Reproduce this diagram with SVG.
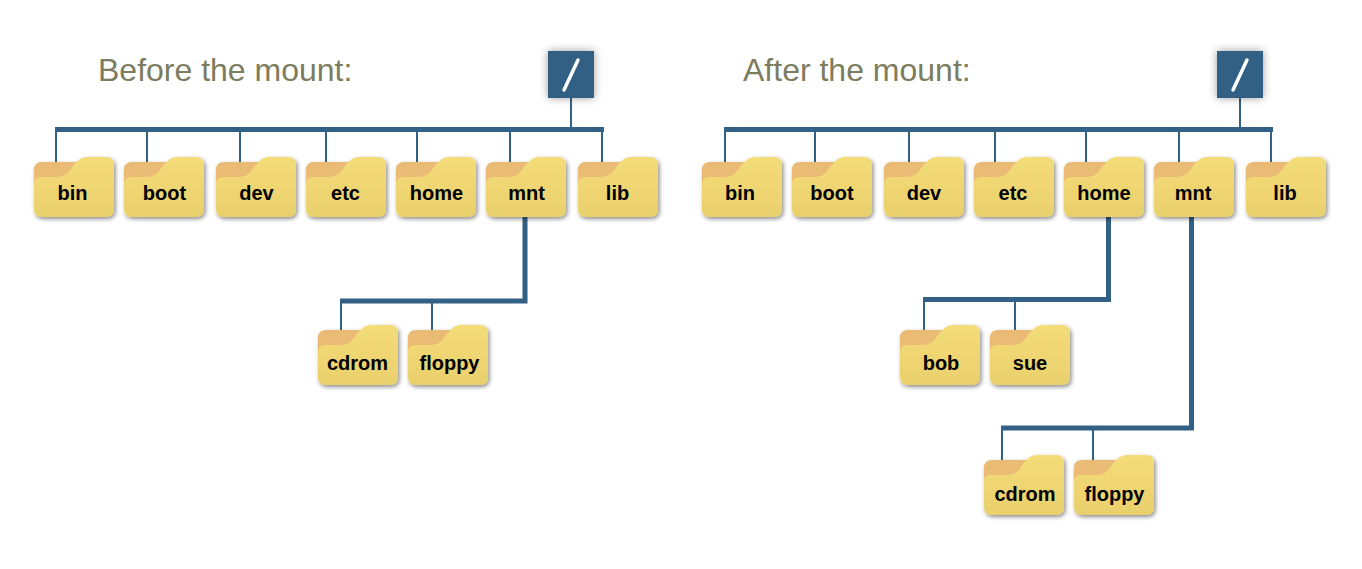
<svg xmlns="http://www.w3.org/2000/svg" xmlns:xlink="http://www.w3.org/1999/xlink" width="1362" height="569" viewBox="0 0 1362 569">
<style>
.title{font-family:"Liberation Sans",Arial,sans-serif;font-size:32px;fill:#7c7c5e}
.lbl{font-family:"Liberation Sans",Arial,sans-serif;font-size:20px;font-weight:bold;fill:#000;text-anchor:middle}
.thin{stroke:#336185;stroke-width:2;fill:none}
.thick{stroke:#336185;stroke-width:5;fill:none}
</style>
<defs>
<linearGradient id="fg" x1="0" y1="0" x2="0" y2="1"><stop offset="0" stop-color="#f4dc78"/><stop offset="1" stop-color="#ead06c"/></linearGradient>
<filter id="sh" x="-20%" y="-20%" width="140%" height="140%"><feDropShadow dx="1.500" dy="2" stdDeviation="2" flood-color="#000" flood-opacity="0.45"/></filter>
<filter id="sh2" x="-40%" y="-40%" width="180%" height="180%"><feDropShadow dx="0" dy="0" stdDeviation="4.500" flood-color="#000" flood-opacity="0.4"/></filter>
<symbol id="folder" width="80" height="60" overflow="visible">
<g filter="url(#sh)">
<path d="M0 13Q0 5 8 5H46V30H0Z" fill="#e9bb75"/>
<path d="M0 27Q0 20 7 20H23C29 20 33 17 36 13C40 8 44 0 54 0H72Q80 0 80 8V52Q80 60 72 60H8Q0 60 0 52Z" fill="url(#fg)"/>
</g>
</symbol>
</defs>
<text class="title" x="98" y="81">Before the mount:</text>
<text class="title" x="743" y="81">After the mount:</text>
<g id="connectors">
<path class="thick" d="M55 129.500H604M340 301H525V217"/>
<path class="thin" d="M571 98V128M56 130V162M147 130V162M240 130V162M326 130V162M417 130V162M510 130V162M602 130V162M341 301V330M432 301V330"/>
<path class="thick" d="M724 129.500H1273M923 299.500H1108.500V217M1001 428H1191.500V217"/>
<path class="thin" d="M1240 98V128M725 130V162M815 130V162M909 130V162M995 130V162M1086 130V162M1179 130V162M1271 130V162M924 300V330M1015 300V330M1002 428V460M1093 428V460"/>
</g>
<g id="root-before"><rect x="548" y="51" width="46" height="47" fill="#336185" filter="url(#sh2)"/><line x1="564" y1="90" x2="578" y2="60" stroke="#fff" stroke-width="3.500" stroke-linecap="round"/></g>
<g id="root-after"><rect x="1217" y="51" width="46" height="47" fill="#336185" filter="url(#sh2)"/><line x1="1233" y1="90" x2="1247" y2="60" stroke="#fff" stroke-width="3.500" stroke-linecap="round"/></g>
<g id="b-bin"><use xlink:href="#folder" x="34" y="157"/><text class="lbl" x="72.500" y="200">bin</text></g>
<g id="b-boot"><use xlink:href="#folder" x="124" y="157"/><text class="lbl" x="164.500" y="200">boot</text></g>
<g id="b-dev"><use xlink:href="#folder" x="216" y="157"/><text class="lbl" x="256.500" y="200">dev</text></g>
<g id="b-etc"><use xlink:href="#folder" x="306" y="157"/><text class="lbl" x="345.500" y="200">etc</text></g>
<g id="b-home"><use xlink:href="#folder" x="396" y="157"/><text class="lbl" x="436.500" y="200">home</text></g>
<g id="b-mnt"><use xlink:href="#folder" x="486" y="157"/><text class="lbl" x="526.500" y="200">mnt</text></g>
<g id="b-lib"><use xlink:href="#folder" x="578" y="157"/><text class="lbl" x="617.500" y="200">lib</text></g>
<g id="b-cdrom"><use xlink:href="#folder" x="318" y="325"/><text class="lbl" x="357.500" y="370">cdrom</text></g>
<g id="b-floppy"><use xlink:href="#folder" x="408" y="325"/><text class="lbl" x="449.500" y="370">floppy</text></g>
<g id="a-bin"><use xlink:href="#folder" x="702" y="157"/><text class="lbl" x="740" y="200">bin</text></g>
<g id="a-boot"><use xlink:href="#folder" x="792" y="157"/><text class="lbl" x="832" y="200">boot</text></g>
<g id="a-dev"><use xlink:href="#folder" x="884" y="157"/><text class="lbl" x="924" y="200">dev</text></g>
<g id="a-etc"><use xlink:href="#folder" x="974" y="157"/><text class="lbl" x="1013" y="200">etc</text></g>
<g id="a-home"><use xlink:href="#folder" x="1064" y="157"/><text class="lbl" x="1104" y="200">home</text></g>
<g id="a-mnt"><use xlink:href="#folder" x="1154" y="157"/><text class="lbl" x="1193" y="200">mnt</text></g>
<g id="a-lib"><use xlink:href="#folder" x="1246" y="157"/><text class="lbl" x="1285" y="200">lib</text></g>
<g id="a-bob"><use xlink:href="#folder" x="900" y="325"/><text class="lbl" x="941" y="370">bob</text></g>
<g id="a-sue"><use xlink:href="#folder" x="990" y="325"/><text class="lbl" x="1030" y="370">sue</text></g>
<g id="a-cdrom"><use xlink:href="#folder" x="984" y="455"/><text class="lbl" x="1025" y="501">cdrom</text></g>
<g id="a-floppy"><use xlink:href="#folder" x="1074" y="455"/><text class="lbl" x="1114.500" y="501">floppy</text></g>
</svg>
